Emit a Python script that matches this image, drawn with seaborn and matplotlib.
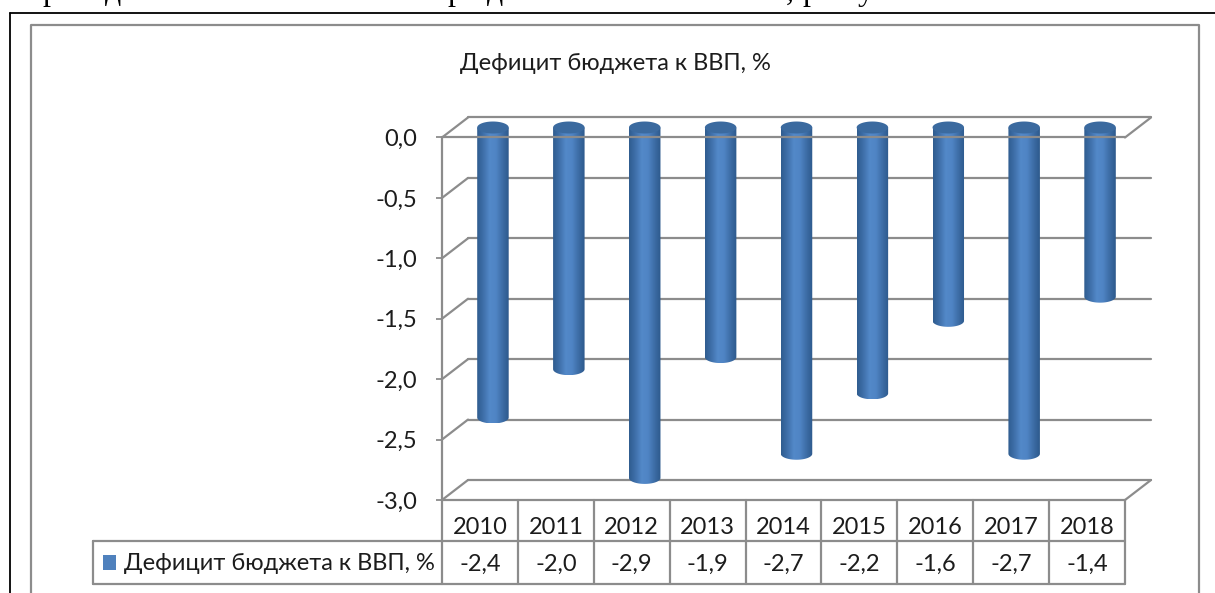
import numpy as np
import pandas as pd
import matplotlib
matplotlib.use("Agg")
import matplotlib.pyplot as plt
import seaborn as sns
from matplotlib.lines import Line2D
from matplotlib.patches import PathPatch
from matplotlib.path import Path
from matplotlib.transforms import Affine2D, blended_transform_factory
from matplotlib.colors import LinearSegmentedColormap

years = ["2010", "2011", "2012", "2013", "2014", "2015", "2016", "2017", "2018"]
deficit = [-2.4, -2.0, -2.9, -1.9, -2.7, -2.2, -1.6, -2.7, -1.4]
y_ticks = [0.0, -0.5, -1.0, -1.5, -2.0, -2.5, -3.0]
title = "Дефицит бюджета к ВВП, %"
fragments = [("р", 50), ("д", 113), ("р", 455), ("д", 495), (",", 790), ("р", 810), ("у", 866)]

W, H = 1215, 593
GRAY = "#8c8c8c"
TXT = "#1c1c1c"
FS = 17
sns.set_theme(style="white")
plt.rcParams["font.family"] = ["Lato", "Open Sans", "DejaVu Sans"]

fig = plt.figure(figsize=(W / 100, H / 100), dpi=100, facecolor="white")
px = Affine2D().scale(1, -1).translate(0, H)
L, R, T, B = 442, 1125, 137.5, 500
ax = fig.add_axes([L / W, (H - B) / H, (R - L) / W, (B - T) / H])

df = pd.DataFrame({"year": years, "value": deficit})
sns.barplot(data=df, x="year", y="value", color="#4f81bd", width=0.415, ax=ax, zorder=3)
ax.set_xlim(-0.5, 8.5)
ax.set_ylim(-3, 0)
ax.set_xlabel("")
ax.set_ylabel("")
for s in ax.spines.values():
    s.set_visible(False)
ax.set_xticks([])
ax.set_yticks(y_ticks)
ax.set_yticklabels([f"{v:.1f}".replace(".", ",") for v in y_ticks], fontsize=FS, color=TXT)
ax.tick_params(axis="y", left=True, length=4.3, width=1.3, color=GRAY, pad=13.5)

# depth offsets of the pseudo-3D box, in pixels
back = ax.transData + Affine2D().translate(26, 20)
mid = ax.transData + Affine2D().translate(13, 10)
lw = 1.6

for v in y_ticks:
    ax.plot([-0.5, 8.5], [v, v], transform=back, color=GRAY, lw=lw, clip_on=False, zorder=1)
    a = ax.transData.transform((-0.5, v))
    fig.add_artist(Line2D([a[0], a[0] + 26], [a[1], a[1] + 20], transform=None, color=GRAY, lw=lw, zorder=1))
for v in (0.0, -3.0):
    ax.plot([-0.5, 8.5], [v, v], color=GRAY, lw=lw, clip_on=False, zorder=6)
    a = ax.transData.transform((8.5, v))
    fig.add_artist(Line2D([a[0], a[0] + 26], [a[1], a[1] + 20], transform=None, color=GRAY, lw=lw, zorder=1))
ax.plot([-0.5, -0.5], [-3, 0], color=GRAY, lw=lw, clip_on=False, zorder=6)

# cylinders drawn over the seaborn bars
side = LinearSegmentedColormap.from_list("side", ["#2f5c8f", "#3f70aa", "#5389c9", "#4f84c4", "#3d6da6", "#2d598c"])
grad = np.linspace(0, 1, 128).reshape(1, -1)
e = 6 / 121
t = np.linspace(0, np.pi, 40)
for bar in ax.patches:
    x0, w, v = bar.get_x(), bar.get_width(), bar.get_height()
    cx, rx = x0 + w / 2, w / 2
    bar.set_transform(mid)
    bar.set_clip_on(False)
    bar.set_visible(False)
    xs = np.r_[cx - rx, cx + rx, cx + rx * np.cos(t)]
    ys = np.r_[0, 0, v - e * np.sin(t)]
    clip = PathPatch(Path(np.c_[xs, ys]), transform=mid, fc="none", ec="none", clip_on=False)
    ax.add_patch(clip)
    im = ax.imshow(grad, cmap=side, extent=(x0, x0 + w, v - e, 0), aspect="auto",
                   transform=mid, zorder=3, interpolation="bilinear")
    im.set_clip_box(fig.bbox)
    im.set_clip_path(clip)
    tt = np.linspace(0, 2 * np.pi, 60)
    ax.fill(cx + rx * np.cos(tt), e * np.sin(tt), transform=mid, color="#3b6a9f",
            clip_on=False, zorder=4, lw=0)
ax.set_xlim(-0.5, 8.5)
ax.set_ylim(-3, 0)
ax.set_aspect("auto")

# data table under the plot
bt = blended_transform_factory(ax.transData, px)
TL, Y1, Y2, Y3 = 93, 500, 541, 584
def pxline(xs, ys, color=GRAY, width=lw, z=5):
    fig.add_artist(Line2D(xs, ys, transform=px, color=color, lw=width, zorder=z))
pxline([TL, R], [Y2, Y2])
pxline([TL, R], [Y3, Y3])
pxline([TL, TL], [Y2, Y3])
pxline([R, R], [Y1, Y3])
pxline([L, L], [Y1, Y3])
for i, (yr, val) in enumerate(zip(years, deficit)):
    if i:
        ax.plot([i - 0.5, i - 0.5], [Y1, Y3], transform=bt, color=GRAY, lw=lw, clip_on=False)
    ax.text(i, 527, yr, transform=bt, ha="center", va="center", fontsize=FS, color=TXT)
    ax.text(i, 564, f"{val:.1f}".replace(".", ","), transform=bt, ha="center", va="center", fontsize=FS, color=TXT)
fig.text(124, 564, title, transform=px, ha="left", va="center", fontsize=FS, color=TXT)
sw = np.array([[102.5, 555], [116, 555], [116, 570], [102.5, 570]])
fig.add_artist(plt.Polygon(sw, closed=True, transform=px, color="#4f81bd", lw=0))

# title
fig.text(615, 63, title, transform=px, ha="center", va="center", fontsize=FS, color=TXT)

# frames
pxline([31, 31, 1199, 1199], [593, 24.5, 24.5, 593], width=1.6, z=2)
pxline([10, 10], [593, 13], color="black", width=1.3, z=2)
pxline([10, 1215], [13, 13], color="black", width=1.3, z=2)

# clipped line of body text above the chart
for ch, x in fragments:
    fig.text(x, 0, ch, transform=px, ha="center", va="baseline", fontsize=23,
             family="Liberation Serif", color="black")

fig.savefig("out.png", dpi=100)
